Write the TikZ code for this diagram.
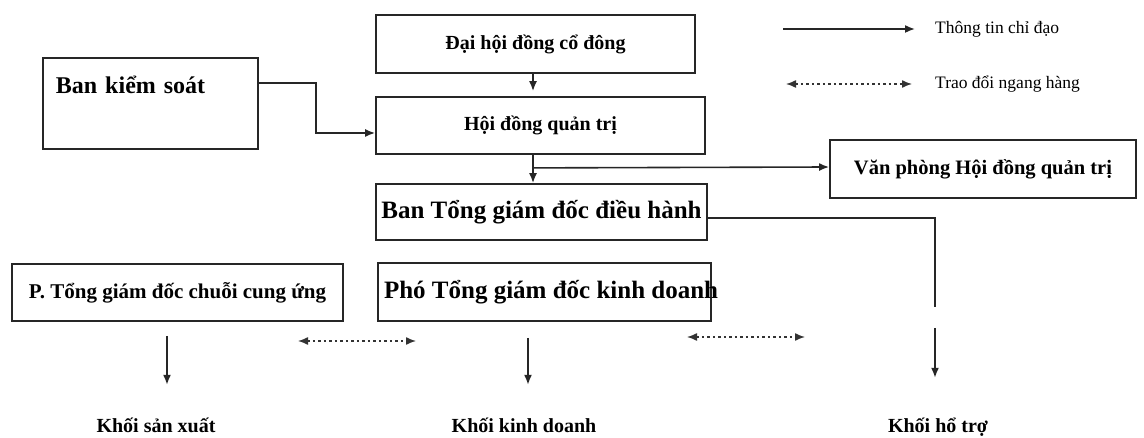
\documentclass[tikz,border=0pt]{standalone}
\usepackage{fontspec}
\setmainfont{Liberation Serif}
\usetikzlibrary{arrows.meta}

\newcommand{\fsz}[1]{\fontsize{#1}{#1}\selectfont}

\tikzset{
  box/.style={draw=black!85, line width=1.8pt, rectangle, inner sep=0pt},
  link/.style={draw=black!85, line width=1.6pt, -{Latex[length=10pt,width=8pt]}},
  plain/.style={draw=black!85, line width=1.8pt},
  peer/.style={draw=black!80, line width=1.4pt, dash pattern=on 2.5pt off 3pt,
    {Latex[length=10pt,width=8pt]}-{Latex[length=10pt,width=8pt]}},
  block/.style={font=\bfseries\fsz{20}, inner sep=0pt, text height=14pt, text depth=4pt},
  legend/.style={anchor=west, inner sep=0pt, font=\fsz{17.5}},
}

\begin{document}
\begin{tikzpicture}[x=1pt, y=-1pt]
\useasboundingbox (0,0) rectangle (1144,438);

% boxes
\node[box, minimum width=319pt, minimum height=58pt, font=\bfseries\fsz{20}] (DHD) at (535.5,44) {Đại hội đồng cổ đông};
\node[box, minimum width=329pt, minimum height=57pt, font=\bfseries\fsz{20}] (HDQT) at (540.5,125.5) {Hội đồng quản trị};
\node[box, anchor=north west, text width=189pt, inner xsep=13pt, text height=36pt, text depth=55pt,
  align=left, font=\bfseries\fsz{24}] (BKS) at (42,57) {Ban kiểm soát};
\node[box, minimum width=331pt, minimum height=56pt, font=\bfseries\fsz{25}] (BTGD) at (541.5,212) {Ban Tổng giám đốc điều hành};
\node[box, minimum width=306pt, minimum height=58pt, font=\bfseries\fsz{20.5}] (VP) at (983,169) {Văn phòng Hội đồng quản trị};
\node[box, minimum width=331pt, minimum height=57pt, font=\bfseries\fsz{21}] (PCCU) at (177.5,292.5) {P. Tổng giám đốc chuỗi cung ứng};
\node[box, minimum height=58pt, inner xsep=6pt, font=\bfseries\fsz{25}] (PKD) at (544.5,292)
  {\makebox[321pt][l]{Phó Tổng giám đốc kinh doanh}};

% khoi
\node[block] (KSX) at (156,427) {Khối sản xuất};
\node[block] (KKD) at (524,427) {Khối kinh doanh};
\node[block] (KHT) at (938,427) {Khối hổ trợ};

% legend
\node[legend] (LG1) at (935,29) {Thông tin chỉ đạo};
\node[legend] (LG2) at (935,84) {Trao đổi ngang hàng};
\draw[link] ([xshift=-152pt]LG1.west) -- ([xshift=-20pt]LG1.west);
\draw[peer] ([xshift=-149pt]LG2.west) -- ([xshift=-23pt]LG2.west);

% connectors
\draw[link, shorten >=5pt] ([xshift=-2.5pt]DHD.south) -- ([xshift=-2.5pt]DHD.south |- HDQT.north);
\draw[link] ([yshift=20.5pt]BKS.east) -| ([xshift=-59pt,yshift=-7.5pt]HDQT.west) -- ([yshift=-7.5pt]HDQT.west);
\draw[link] ([xshift=-7.5pt]HDQT.south) -- ([xshift=-7.5pt]HDQT.south |- BTGD.north);
\draw[link] ([xshift=-7.5pt,yshift=-13pt]HDQT.south) -- ([yshift=2pt]VP.west);

\coordinate (HTend) at (935,307);
\draw[plain] ([yshift=-6pt]BTGD.east) -| (HTend);
\draw[link, shorten <=21pt, shorten >=40pt] (HTend) -- (HTend |- KHT.north);
\draw[link, shorten <=14pt, shorten >=33pt] ([xshift=-10.5pt]PCCU.south) -- ([xshift=-10.5pt]PCCU.south |- KSX.north);
\draw[link, shorten <=16pt, shorten >=33pt] ([xshift=-16.5pt]PKD.south) -- ([xshift=-16.5pt]PKD.south |- KKD.north);

% trao doi ngang hang
\coordinate (pA) at (298,341);
\coordinate (pB) at (416,341);
\coordinate (pC) at (687,337);
\coordinate (pD) at (805,337);
\draw[peer] (pA) -- (pB);
\draw[peer] (pC) -- (pD);
\end{tikzpicture}
\end{document}
